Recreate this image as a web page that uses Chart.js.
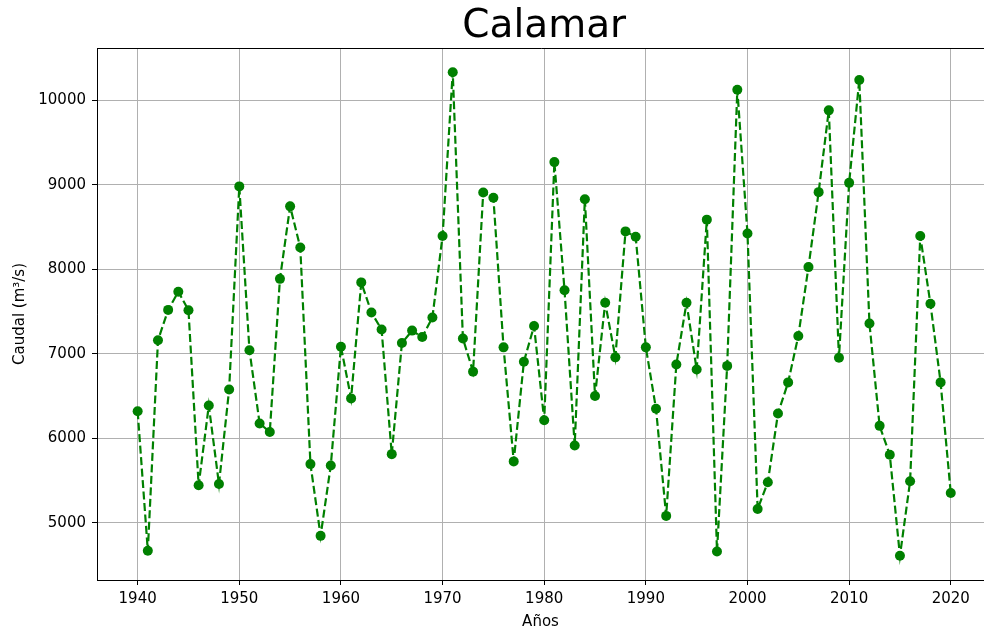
<!DOCTYPE html>
<html>
<head>
<meta charset="utf-8">
<script src="https://cdn.jsdelivr.net/npm/chart.js@4"></script>
<style>
  html, body { margin: 0; padding: 0; background: #ffffff; overflow: hidden; }
  #wrap { width: 984px; height: 631px; }
</style>
</head>
<body>
<div id="wrap"><canvas id="c" width="984" height="631"></canvas></div>
<script>
const years = [1940,1941,1942,1943,1944,1945,1946,1947,1948,1949,
  1950,1951,1952,1953,1954,1955,1956,1957,1958,1959,
  1960,1961,1962,1963,1964,1965,1966,1967,1968,1969,
  1970,1971,1972,1973,1974,1975,1976,1977,1978,1979,
  1980,1981,1982,1983,1984,1985,1986,1987,1988,1989,
  1990,1991,1992,1993,1994,1995,1996,1997,1998,1999,
  2000,2001,2002,2003,2004,2005,2006,2007,2008,2009,
  2010,2011,2012,2013,2014,2015,2016,2017,2018,2019,2020];
const caudal = [6321,4671,7160,7519,7734,7515,5447,6388,5460,6578,
  8979,7042,6177,6076,7886,8743,8257,5696,4848,5679,
  7084,6473,7844,7489,7287,5814,7127,7274,7198,7430,
  8392,10329,7181,6789,8907,8844,7076,5728,6907,7329,
  6215,9266,7751,5916,8827,6502,7603,6958,8447,8384,
  7076,6350,5084,6873,7603,6814,8586,4662,6857,10122,
  8422,5165,5481,6295,6662,7211,8025,8911,9878,6954,
  9021,10236,7359,6148,5806,4612,5494,8392,7591,6662,5354];
const xTicks = [1940,1950,1960,1970,1980,1990,2000,2010,2020];
const yTicks = [5000,6000,7000,8000,9000,10000];
const titleText = 'Calamar';
const xTitle = 'Años';
const yTitle = 'Caudal (m³/s)';

// Axes domain: 1936..2024; the picture is cut just before the right edge of the axes.
const xDomain = [1936, 2024];
const xVisibleMax = 2023.27;

const points = years.map((y, i) => ({ x: y, y: caudal[i] }));

// Left, top and bottom spines (right spine lies outside the picture)
const framePlugin = {
  id: 'frame',
  afterDraw(chart) {
    const a = chart.chartArea;
    const ctx = chart.ctx;
    const l = Math.round(a.left) + 0.5, t = Math.round(a.top) + 0.5, b = Math.round(a.bottom) + 0.5;
    ctx.save();
    ctx.strokeStyle = '#000';
    ctx.lineWidth = 1;
    ctx.beginPath();
    ctx.moveTo(chart.width + 2, t);
    ctx.lineTo(l, t);
    ctx.lineTo(l, b);
    ctx.lineTo(chart.width + 2, b);
    ctx.stroke();
    ctx.restore();
  }
};

// Title centred over the whole axes box (like matplotlib)
const titlePlugin = {
  id: 'axTitle',
  afterDraw(chart) {
    const xs = chart.scales.x;
    const cx = xs.getPixelForValue((xDomain[0] + xDomain[1]) / 2);
    const ctx = chart.ctx;
    ctx.save();
    ctx.fillStyle = '#000';
    ctx.font = "39px 'DejaVu Sans', sans-serif";
    ctx.textAlign = 'center';
    ctx.textBaseline = 'alphabetic';
    ctx.fillText(titleText, cx, 37);
    ctx.restore();
  }
};

Chart.defaults.font.family = "'DejaVu Sans', sans-serif";
Chart.defaults.color = '#000';

new Chart(document.getElementById('c'), {
  type: 'line',
  data: {
    datasets: [{
      data: points,
      borderColor: '#008000',
      backgroundColor: '#008000',
      borderWidth: 2.2,
      borderDash: [8, 3.5],
      tension: 0,
      fill: false,
      clip: false,
      pointRadius: 5,
      pointHoverRadius: 5,
      pointBackgroundColor: '#008000',
      pointBorderColor: '#008000',
      pointBorderWidth: 0
    }]
  },
  options: {
    responsive: false,
    animation: false,
    devicePixelRatio: 1,
    layout: { autoPadding: false, padding: { top: 48, right: 0, left: 0, bottom: 0 } },
    plugins: {
      legend: { display: false },
      tooltip: { enabled: false },
      title: { display: false }
    },
    scales: {
      x: {
        type: 'linear',
        min: xDomain[0],
        max: xVisibleMax,
        afterBuildTicks: (axis) => { axis.ticks = xTicks.map(v => ({ value: v })); },
        afterFit: (axis) => { axis.height = 51; axis.paddingLeft = 0; axis.paddingRight = 0; },
        ticks: {
          callback: (v) => String(v),
          font: { size: 15 },
          padding: 5,
          maxRotation: 0,
          autoSkip: false
        },
        grid: { color: '#b0b0b0', lineWidth: 1, tickColor: '#000', tickLength: 5, drawTicks: true },
        border: { display: true, color: '#000', width: 1 },
        title: {
          display: true, text: xTitle, font: { size: 15 }, padding: { top: 0, bottom: 0 },
          align: 'center'
        }
      },
      y: {
        type: 'linear',
        min: 4326,
        max: 10615,
        afterBuildTicks: (axis) => { axis.ticks = yTicks.map(v => ({ value: v })); },
        afterFit: (axis) => { axis.width = 97; axis.paddingTop = 0; axis.paddingBottom = 0; },
        ticks: {
          callback: (v) => String(v),
          font: { size: 15 },
          padding: 6
        },
        grid: { color: '#b0b0b0', lineWidth: 1, tickColor: '#000', tickLength: 5, drawTicks: true },
        border: { display: true, color: '#000', width: 1 },
        title: { display: true, text: yTitle, font: { size: 15 }, padding: { top: 11, bottom: 0 } }
      }
    }
  },
  plugins: [framePlugin, titlePlugin]
});
</script>
</body>
</html>
